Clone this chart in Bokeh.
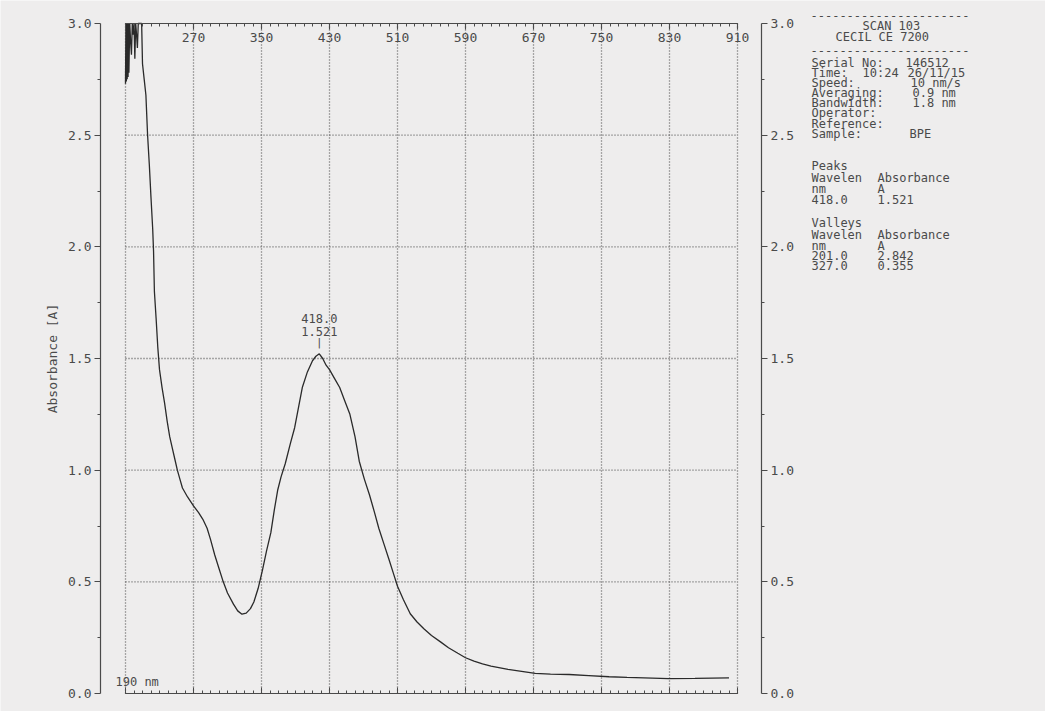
from bokeh.plotting import figure
from bokeh.models import (LinearAxis, FixedTicker, Range1d, Label, NumeralTickFormatter)
from bokeh.core.properties import value
from bokeh.embed import file_html
from bokeh.resources import INLINE

# ---------------- data ----------------
wavelength = [190, 190.5, 191, 191.5, 192, 192.5, 193, 193.5, 194, 195, 196, 197, 198, 199,
              200, 201, 202, 203, 204, 205, 209, 210, 212, 214, 216, 218, 220, 222, 223,
              224, 226, 228, 230, 233, 236, 239, 242, 245, 248, 251, 254, 257, 263, 270,
              276, 281, 286, 290, 295, 300, 305, 310, 317, 322, 327, 332, 337, 341, 346,
              351, 356, 361, 365, 369, 373, 378, 384, 389, 394, 398, 404, 410, 414, 418,
              422, 426, 430, 436, 442, 448, 454, 460, 465, 471, 477, 483, 488, 494, 500,
              505, 510, 517, 525, 533, 541, 550, 561, 570, 581, 590, 600, 610, 620, 640,
              660, 672, 690, 712, 735, 759, 780, 800, 829, 860, 880, 900]
absorbance = [2.73, 3.00, 2.74, 3.00, 2.75, 3.00, 2.76, 3.00, 2.78, 3.00, 2.92, 2.86, 3.00, 2.95,
              3.00, 2.842, 3.00, 2.95, 2.89, 3.00, 3.00, 2.82, 2.75, 2.68, 2.50, 2.37, 2.22, 2.08, 1.98,
              1.80, 1.68, 1.55, 1.45, 1.37, 1.30, 1.22, 1.15, 1.10, 1.05, 1.00, 0.96, 0.92, 0.88, 0.84,
              0.81, 0.78, 0.74, 0.69, 0.62, 0.56, 0.50, 0.45, 0.40, 0.37, 0.355, 0.36, 0.38, 0.41, 0.47,
              0.55, 0.64, 0.72, 0.82, 0.91, 0.97, 1.03, 1.12, 1.19, 1.29, 1.37, 1.44, 1.49, 1.51, 1.521,
              1.50, 1.47, 1.45, 1.41, 1.37, 1.31, 1.25, 1.15, 1.04, 0.96, 0.89, 0.81, 0.74, 0.67, 0.60,
              0.54, 0.48, 0.42, 0.357, 0.32, 0.29, 0.26, 0.23, 0.205, 0.18, 0.16, 0.145, 0.133, 0.123, 0.108,
              0.097, 0.09, 0.087, 0.085, 0.08, 0.075, 0.072, 0.07, 0.067, 0.068, 0.069, 0.07]

x_major = [190, 270, 350, 430, 510, 590, 670, 750, 830, 910]
x_labelled = [270, 350, 430, 510, 590, 670, 750, 830, 910]
x_minor = list(range(190, 911, 10))
y_major = [0.0, 0.5, 1.0, 1.5, 2.0, 2.5, 3.0]
y_minor = [0.25, 0.75, 1.25, 1.75, 2.25, 2.75]
y_grid = [0.5, 1.0, 1.5, 2.0, 2.5]
x_lo, x_hi = 190, 910
y_lo, y_hi = 0.0, 3.0

peak_nm = [418.0]
peak_abs = [1.521]
peak_text1 = ["418.0"]
peak_text2 = ["1.521"]

start_label = "190 nm"
y_title = "Absorbance [A]"

panel_header = ["SCAN 103", "CECIL", "CE 7200"]
panel_fields = ["Serial No:", "Time:", "Speed:", "Averaging:", "Bandwidth:",
                "Operator:", "Reference:", "Sample:"]
panel_values = ["146512", "10:24", "26/11/15", "10 nm/s", "0.9 nm", "1.8 nm", "BPE"]
peaks_block = ["Peaks", "Wavelen", "Absorbance", "nm", "A", "418.0", "1.521"]
valleys_block = ["Valleys", "Wavelen", "Absorbance", "nm", "A",
                 "201.0", "2.842", "327.0", "0.355"]

# ---------------- layout / styling ----------------
PAPER = "#eeeded"
INK = "#4a4a4a"
CURVE = "#2a2a2a"
GRID = "#5c5c5c"
MONO = "DejaVu Sans Mono"

W, H = 1045, 711
# page-pixel geometry of the printed chart (page = figure + 8px margin)
X190, X910 = 133, 745          # page x of 190 nm and 910 nm
Y0, Y3 = 701, 31               # page y of 0.0 A and 3.0 A
XL_AX, XR_AX = 108, 769        # page x of the left / right absorbance axes
px_nm = (X910 - X190) / (x_hi - x_lo)
px_a = (Y0 - Y3) / (y_hi - y_lo)

def nm_at(X):
    return x_lo + (X - X190) / px_nm

def a_at(Y):
    return y_lo + (Y0 - Y) / px_a

p = figure(width=W, height=H, output_backend="svg", toolbar_location=None,
           x_range=Range1d(nm_at(8), nm_at(8 + W)), y_range=Range1d(a_at(8 + H), a_at(8)),
           min_border_left=0, min_border_top=0, min_border_right=0, min_border_bottom=0,
           background_fill_color=PAPER, border_fill_color=PAPER, outline_line_color=None,
           x_axis_location=None, y_axis_location=None)
p.xgrid.visible = False
p.ygrid.visible = False

def style_axis(ax, tin, tout, mtin, mtout, size="13px"):
    ax.axis_line_color = INK
    ax.axis_line_width = 1.2
    ax.major_tick_line_color = INK
    ax.minor_tick_line_color = INK
    ax.major_tick_line_width = 1.1
    ax.minor_tick_line_width = 1.0
    ax.major_tick_in = tin
    ax.major_tick_out = tout
    ax.minor_tick_in = mtin
    ax.minor_tick_out = mtout
    ax.major_label_text_font = MONO
    ax.major_label_text_color = INK
    ax.major_label_text_font_size = size
    ax.major_label_standoff = 3

# top ruler (axis line at 3.0, labels printed underneath it)
top_labels = LinearAxis(ticker=FixedTicker(ticks=x_labelled, minor_ticks=x_minor),
                        bounds=(x_lo, x_hi), fixed_location=y_hi)
style_axis(top_labels, 0, 6, 0, 3)
p.add_layout(top_labels, "below")
top_major = LinearAxis(ticker=FixedTicker(ticks=[], minor_ticks=[x_lo]),
                       bounds=(x_lo, x_hi), fixed_location=y_hi)
style_axis(top_major, 0, 0, 0, 6)
p.add_layout(top_major, "below")

# bottom ruler (ticks pointing up, no numbers)
bot_minor = LinearAxis(ticker=FixedTicker(ticks=[], minor_ticks=x_minor),
                       bounds=(x_lo, x_hi), fixed_location=y_lo)
style_axis(bot_minor, 0, 0, 0, 3)
p.add_layout(bot_minor, "above")
bot_major = LinearAxis(ticker=FixedTicker(ticks=[], minor_ticks=x_major),
                       bounds=(x_lo, x_hi), fixed_location=y_lo)
style_axis(bot_major, 0, 0, 0, 6)
p.add_layout(bot_major, "above")

# left absorbance axis
ly = LinearAxis(ticker=FixedTicker(ticks=y_major, minor_ticks=y_minor), bounds=(y_lo, y_hi),
                formatter=NumeralTickFormatter(format="0.0"), fixed_location=nm_at(XL_AX))
style_axis(ly, 0, 6, 0, 3)
ly.axis_label = y_title
ly.axis_label_text_font = MONO
ly.axis_label_text_font_style = "normal"
ly.axis_label_text_font_size = "13px"
ly.axis_label_text_color = INK
ly.axis_label_standoff = 5
p.add_layout(ly, "left")

# right absorbance axis
ry = LinearAxis(ticker=FixedTicker(ticks=y_major, minor_ticks=y_minor), bounds=(y_lo, y_hi),
                formatter=NumeralTickFormatter(format="0.0"), fixed_location=nm_at(XR_AX))
style_axis(ry, 0, 6, 0, 3)
p.add_layout(ry, "right")

# dotted grid restricted to the scan window
p.segment(x0=x_major, x1=x_major, y0=[y_lo] * len(x_major), y1=[y_hi] * len(x_major),
          line_color=GRID, line_dash="1 2", line_width=1.3)
p.segment(x0=[x_lo] * len(y_grid), x1=[x_hi] * len(y_grid), y0=y_grid, y1=y_grid,
          line_color=GRID, line_dash="1 2", line_width=1.3)

# start wavelength label
p.text(x=[x_lo], y=[y_lo], text=[start_label], text_font=value(MONO),
       text_font_size="12px", text_color=INK, text_align="left",
       text_baseline="middle", x_offset=-10, y_offset=-12)

# spectrum
p.line(wavelength, absorbance, line_color=CURVE, line_width=1.3)

# peak annotation
p.text(x=peak_nm, y=peak_abs, text=peak_text1, text_font=value(MONO), text_font_size="12px",
       text_color=INK, text_align="center", text_baseline="middle", y_offset=-35)
p.text(x=peak_nm, y=peak_abs, text=peak_text2, text_font=value(MONO), text_font_size="12px",
       text_color=INK, text_align="center", text_baseline="middle", y_offset=-22)
p.text(x=peak_nm, y=peak_abs, text=["|"], text_font=value(MONO), text_font_size="11px",
       text_color=INK, text_align="center", text_baseline="middle", y_offset=-11)

# ---------------- instrument print-out panel ----------------
def put(text, X, Y, size="12px"):
    p.add_layout(Label(x=X - 8, y=(8 + H) - Y, x_units="screen", y_units="screen", text=text,
                       text_font=MONO, text_font_size=size, text_color=INK,
                       text_align="left", text_baseline="middle"))

dash = "-" * 22
put(dash, 818, 23)
put(panel_header[0], 870, 33)
put(panel_header[1], 843, 44)
put(panel_header[2], 886, 44)
put(dash, 818, 58)

field_y = [70, 80, 90, 100, 110, 120, 131, 141]
for t, yy in zip(panel_fields, field_y):
    put(t, 819, yy)
put(panel_values[0], 913, 70)
put(panel_values[1], 870, 80)
put(panel_values[2], 915, 80)
put(panel_values[3], 918, 90)
put(panel_values[4], 920, 100)
put(panel_values[5], 920, 110)
put(panel_values[6], 917, 141)

put(peaks_block[0], 819, 173)
put(peaks_block[1], 819, 185)
put(peaks_block[2], 885, 185)
put(peaks_block[3], 819, 196)
put(peaks_block[4], 885, 196)
put(peaks_block[5], 819, 207)
put(peaks_block[6], 885, 207)

put(valleys_block[0], 819, 230)
put(valleys_block[1], 819, 242)
put(valleys_block[2], 885, 242)
put(valleys_block[3], 819, 253)
put(valleys_block[4], 885, 253)
put(valleys_block[5], 819, 263)
put(valleys_block[6], 885, 263)
put(valleys_block[7], 819, 273)
put(valleys_block[8], 885, 273)

open("out.html", "w").write(file_html(p, INLINE))
